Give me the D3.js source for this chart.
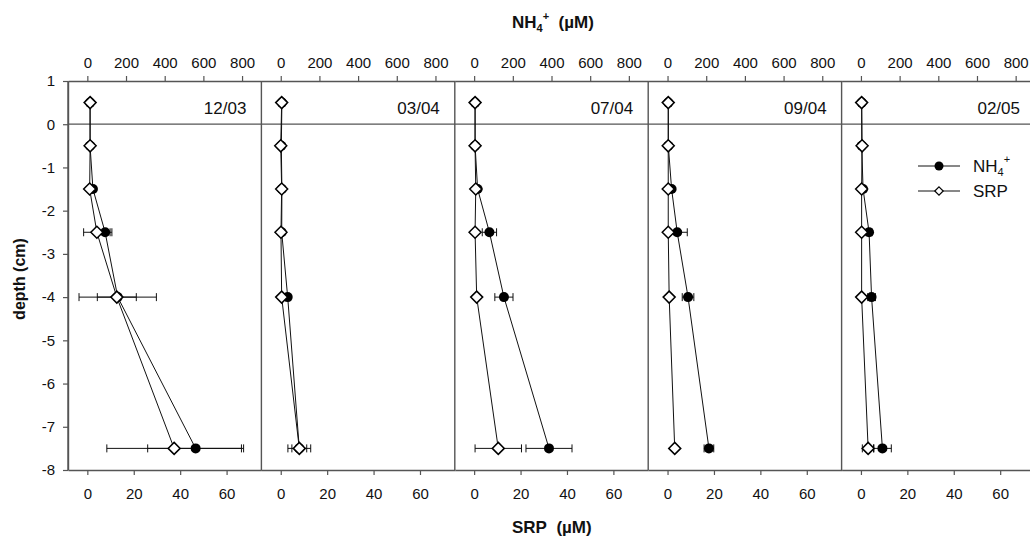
<!DOCTYPE html>
<html>
<head>
<meta charset="utf-8">
<script src="https://cdn.jsdelivr.net/npm/d3@7"></script>
<style>
  body { margin: 0; background: #fff; }
  svg { font-family: "Liberation Sans", Arial, sans-serif; }
</style>
</head>
<body>
<svg id="chart" width="1030" height="541"></svg>
<script>
// sampling dates (one panel each) and depths (cm)
var dates = ["12/03", "03/04", "07/04", "09/04", "02/05"];
var depths = [0.5, -0.5, -1.5, -2.5, -4, -7.5];

// NH4+ (µM), one row per date
var nh4 = [
  [14, 14, 29, 92, 157, 560],
  [6, 3, 6, 5, 36, 96],
  [5, 5, 18, 79, 154, 387],
  [4, 4, 21, 50, 106, 214],
  [4, 4, 11, 42, 55, 111]
];
var nh4Err = [
  [0, 0, 0, 35, 200, 248],
  [0, 0, 0, 0, 12, 59],
  [0, 0, 0, 37, 47, 119],
  [0, 0, 0, 52, 30, 25],
  [0, 0, 0, 15, 20, 46]
];

// SRP (µM)
var srp = [
  [1.2, 1.2, 1.0, 4.1, 12.7, 37.4],
  [0.4, 0, 0.4, 0.1, 0.4, 8.0],
  [0.4, 0.4, 0.7, 0.4, 1.1, 10.4],
  [0.3, 0.3, 0.3, 0.3, 0.7, 3.1],
  [0.3, 0.5, 0.3, 0.3, 0.3, 3.1]
];
var srpErr = [
  [0, 0, 0, 5.7, 8.4, 29],
  [0, 0, 0, 0, 0, 3.2],
  [0, 0, 0, 0, 0, 10],
  [0, 0, 0, 0, 0, 0],
  [0, 0, 0, 0, 0, 2.5]
];

var nh4Ticks = [0, 200, 400, 600, 800];
var srpTicks = [0, 20, 40, 60];
var depthTicks = [1, 0, -1, -2, -3, -4, -5, -6, -7, -8];

var svg = d3.select("#chart");
var mLeft = 68, yTop = 81, yBot = 470, pw = 193.4;
var axisColor = "#555", ink = "#111";

var y = d3.scaleLinear().domain([-8, 1]).range([yBot, yTop]);

// zero line across all panels
svg.append("line")
  .attr("x1", mLeft).attr("x2", 1030)
  .attr("y1", y(0)).attr("y2", y(0))
  .attr("stroke", axisColor).attr("stroke-width", 1.2);

function styleAxis(g) {
  g.attr("font-family", null).attr("font-size", null);
  g.selectAll(".domain").attr("stroke", axisColor).attr("stroke-width", 1.4);
  g.selectAll(".tick line").attr("stroke", axisColor).attr("stroke-width", 1.2);
  g.selectAll(".tick text").attr("fill", ink).style("font-size", "15px");
}

function diamond(r) {
  return "M0," + (-r) + "L" + r + ",0L0," + r + "L" + (-r) + ",0Z";
}

// left depth axis (plain hyphen for negatives, as in the original)
svg.append("g")
  .attr("transform", "translate(" + mLeft + ",0)")
  .call(d3.axisLeft(y).tickValues(depthTicks).tickFormat(d => String(d))
    .tickSize(5).tickSizeOuter(0).tickPadding(8))
  .call(styleAxis);

dates.forEach(function(date, i) {
  var x0 = mLeft + i * pw;
  var xN = d3.scaleLinear().domain([-100, 900]).range([x0, x0 + pw]);
  var xS = d3.scaleLinear().domain([-100 / 12, 75]).range([x0, x0 + pw]);
  var g = svg.append("g");

  g.append("g")
    .attr("transform", "translate(0," + yTop + ")")
    .call(d3.axisTop(xN).tickValues(nh4Ticks).tickSize(5).tickSizeOuter(0).tickPadding(8))
    .call(styleAxis);

  g.append("g")
    .attr("transform", "translate(0," + yBot + ")")
    .call(d3.axisBottom(xS).tickValues(srpTicks).tickSize(5).tickSizeOuter(0).tickPadding(13))
    .call(styleAxis);

  // panel separators
  if (i === 0) {
    g.append("line").attr("x1", x0).attr("x2", x0).attr("y1", yTop).attr("y2", yBot)
      .attr("stroke", axisColor).attr("stroke-width", 1.4);
  }
  g.append("line").attr("x1", x0 + pw).attr("x2", x0 + pw).attr("y1", yTop).attr("y2", yBot)
    .attr("stroke", axisColor).attr("stroke-width", 1.4);

  g.append("text")
    .attr("x", x0 + pw - 15).attr("y", 114)
    .attr("text-anchor", "end")
    .style("font-size", "17px").attr("fill", ink)
    .text(date);

  var pts = depths.map(function(d, j) {
    return { d: d, n: nh4[i][j], ne: nh4Err[i][j], s: srp[i][j], se: srpErr[i][j] };
  });

  var lineN = d3.line().x(p => xN(p.n)).y(p => y(p.d));
  var lineS = d3.line().x(p => xS(p.s)).y(p => y(p.d));

  g.append("path").attr("d", lineN(pts)).attr("fill", "none").attr("stroke", ink).attr("stroke-width", 1);
  g.append("path").attr("d", lineS(pts)).attr("fill", "none").attr("stroke", ink).attr("stroke-width", 1);

  // error bars
  function errBars(data, xs, val, err) {
    data.filter(p => err(p) > 0).forEach(function(p) {
      var a = xs(val(p) - err(p)), b = xs(val(p) + err(p)), yy = y(p.d);
      g.append("line").attr("x1", a).attr("x2", b).attr("y1", yy).attr("y2", yy)
        .attr("stroke", ink).attr("stroke-width", 1);
      [a, b].forEach(function(xx) {
        g.append("line").attr("x1", xx).attr("x2", xx).attr("y1", yy - 4).attr("y2", yy + 4)
          .attr("stroke", ink).attr("stroke-width", 1);
      });
    });
  }
  errBars(pts, xN, p => p.n, p => p.ne);
  errBars(pts, xS, p => p.s, p => p.se);

  g.selectAll("circle.nh4")
    .data(pts)
    .enter().append("circle")
    .attr("class", "nh4")
    .attr("cx", p => xN(p.n))
    .attr("cy", p => y(p.d))
    .attr("r", 5)
    .attr("fill", "#000");

  g.selectAll("path.srp")
    .data(pts)
    .enter().append("path")
    .attr("class", "srp")
    .attr("d", diamond(6))
    .attr("transform", p => "translate(" + xS(p.s) + "," + y(p.d) + ")")
    .attr("fill", "#fff")
    .attr("stroke", "#000")
    .attr("stroke-width", 1.5);

  // legend in the last panel
  if (i === dates.length - 1) {
    var lg = svg.append("g");
    lg.append("line").attr("x1", 918).attr("x2", 960).attr("y1", 166).attr("y2", 166)
      .attr("stroke", ink).attr("stroke-width", 1);
    lg.append("circle").attr("cx", 939).attr("cy", 166).attr("r", 4.5).attr("fill", "#000");
    var t1 = lg.append("text").attr("x", 973).attr("y", 172).style("font-size", "17px").attr("fill", ink);
    t1.append("tspan").text("NH");
    t1.append("tspan").attr("dy", 4).style("font-size", "11px").text("4");
    t1.append("tspan").attr("dy", -13).style("font-size", "11px").text("+");

    lg.append("line").attr("x1", 918).attr("x2", 960).attr("y1", 191).attr("y2", 191)
      .attr("stroke", ink).attr("stroke-width", 1);
    lg.append("path").attr("d", diamond(4.2))
      .attr("transform", "translate(939,191)")
      .attr("fill", "#fff").attr("stroke", "#000").attr("stroke-width", 1.2);
    lg.append("text").attr("x", 973).attr("y", 197).style("font-size", "17px").attr("fill", ink).text("SRP");
  }
});

// axis titles
var tt = svg.append("text").attr("x", 512).attr("y", 28)
  .style("font-size", "17px").style("font-weight", "bold").attr("fill", ink);
tt.append("tspan").text("NH");
tt.append("tspan").attr("dy", 4).style("font-size", "11px").text("4");
tt.append("tspan").attr("dy", -12).style("font-size", "11px").text("+");
tt.append("tspan").attr("dy", 8).text("\u00a0\u00a0(\u00b5M)");

svg.append("text").attr("x", 512).attr("y", 533)
  .style("font-size", "17px").style("font-weight", "bold").attr("fill", ink)
  .text("SRP\u00a0\u00a0(\u00b5M)");

svg.append("text")
  .attr("transform", "translate(25,279) rotate(-90)")
  .attr("text-anchor", "middle")
  .style("font-size", "16px").style("font-weight", "bold").attr("fill", ink)
  .text("depth (cm)");
</script>
</body>
</html>
